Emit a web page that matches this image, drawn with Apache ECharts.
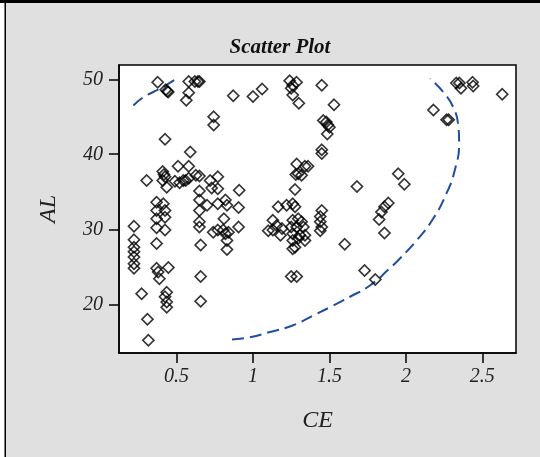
<!DOCTYPE html>
<html>
<head>
<meta charset="utf-8">
<script src="https://cdn.jsdelivr.net/npm/echarts@6/dist/echarts.min.js"></script>
<style>
html,body{margin:0;padding:0;background:#fff;}
#chart{width:540px;height:457px;}
</style>
</head>
<body>
<div id="chart"></div>
<script>
// ---- data ----
const ceValues = [0.377,0.43,0.44,0.446,0.58,0.62,0.64,0.65,0.58,0.564,0.871,1.0,1.06,0.743,0.743,0.425,0.59,0.51,0.58,0.41,
0.418,0.425,0.41,0.305,0.436,0.49,0.52,0.545,0.56,0.58,0.627,0.65,0.72,0.77,0.73,0.77,0.65,0.91,0.37,0.414,
0.37,0.425,0.37,0.425,0.37,0.425,0.37,0.222,0.222,0.222,0.222,0.222,0.222,0.222,0.447,0.37,0.38,0.388,0.272,0.436,
0.425,0.436,0.436,0.31,0.316,0.658,0.658,0.658,0.906,0.906,0.65,0.65,0.70,0.65,0.65,0.77,0.82,0.83,0.81,0.74,
0.77,0.82,0.83,0.83,0.806,0.84,1.10,1.24,1.26,1.285,1.25,1.26,1.30,1.45,1.53,1.46,1.48,1.49,1.50,1.486,
1.45,1.45,1.286,1.34,1.36,1.296,1.318,1.28,1.275,1.68,1.95,1.99,1.165,1.22,1.26,1.275,1.45,1.86,1.885,1.44,
1.44,1.45,1.44,1.13,1.155,1.13,1.18,1.19,1.26,1.296,1.318,1.25,1.286,1.33,1.26,1.307,1.34,1.26,1.296,1.34,
1.26,1.275,1.60,1.25,1.286,1.73,1.80,1.86,1.825,1.84,2.33,2.35,2.36,2.436,2.44,2.63,2.18,2.266,2.28];
const alValues = [49.6,48.6,48.4,48.3,49.7,49.7,49.7,49.7,48.2,47.2,47.8,47.7,48.7,45.0,43.9,42.0,40.3,38.4,38.4,37.7,
37.3,37.0,36.5,36.5,35.6,36.4,36.2,36.5,36.5,36.8,37.2,37.1,36.5,37.0,35.5,35.4,35.1,35.2,33.6,33.4,
32.5,32.5,31.4,31.6,30.2,29.9,28.1,30.4,28.6,27.6,27.0,26.3,25.4,24.8,24.9,24.8,24.3,23.4,21.4,21.6,
21.0,20.3,19.6,18.0,15.2,27.9,23.7,20.4,32.9,30.3,33.9,32.5,33.2,31.0,30.3,33.4,33.9,33.2,31.4,29.6,
29.9,29.4,28.5,27.3,29.9,29.6,29.8,49.8,49.2,49.6,48.8,47.9,46.8,49.2,46.6,44.5,44.3,43.9,43.6,42.7,
40.6,40.1,38.7,38.4,38.4,37.4,37.2,37.3,35.3,35.7,37.4,36.0,33.0,33.2,33.4,33.0,32.5,33.0,33.5,31.7,
31.0,30.3,29.8,31.2,30.5,29.9,29.2,30.1,31.2,31.4,31.0,30.3,30.3,30.3,29.4,29.2,29.2,28.5,28.8,28.5,
27.4,27.6,28.0,23.7,23.7,24.5,23.3,29.5,31.3,32.3,49.5,49.5,48.8,49.6,49.1,48.0,45.9,44.6,44.6];

// ellipse (two visible pieces)
const ellipseTopCE = [0.218,0.283,0.348,0.414,0.501];
const ellipseTopAL = [46.5,47.6,48.3,49.0,50.1];
const ellipseMainCE = [0.863,0.98,1.111,1.263,1.394,1.503,1.634,1.765,1.895,1.961,2.07,2.178,2.266,2.32,2.348,2.342,2.309,2.244,2.157];
const ellipseMainAL = [15.3,15.6,16.3,17.2,18.5,19.6,21.0,22.5,24.8,26.1,28.5,31.4,34.8,37.9,41.4,43.9,46.3,48.3,50.1];

const xTicks = [0.5,1,1.5,2,2.5];
const yTicks = [20,30,40,50];
const xRange = [0.124,2.72];
const yRange = [13.5,51.9];

const zip = (a,b)=>a.map((v,i)=>[v,b[i]]);

const chart = echarts.init(document.getElementById('chart'));
const serif = '"Liberation Serif","DejaVu Serif",serif';
const dashStyle = {color:'#1f4f9c', width:2, type:[12,6]};

chart.setOption({
  backgroundColor:'#e0e0e0',
  animation:false,
  title:{
    text:'Scatter Plot', left:275, top:32, textAlign:'center',
    textStyle:{fontFamily:serif, fontStyle:'italic', fontWeight:'bold', fontSize:21, color:'#111'}
  },
  graphic:[
    {type:'rect', shape:{x:0,y:0,width:4.5,height:457}, style:{fill:'#fff'}, z:100},
    {type:'rect', shape:{x:0,y:0,width:540,height:3}, style:{fill:'#000'}, z:100},
    {type:'rect', shape:{x:4.5,y:0,width:1.5,height:457}, style:{fill:'#000'}, z:100}
  ],
  grid:{left:119, top:65, right:24, bottom:104, show:true, backgroundColor:'#fff', borderColor:'#000', borderWidth:1.5},
  xAxis:{
    type:'value', min:xRange[0], max:xRange[1],
    name:'CE', nameLocation:'middle', nameGap:56,
    nameTextStyle:{fontFamily:serif, fontStyle:'italic', fontSize:24, color:'#222'},
    axisLine:{show:true, onZero:false, lineStyle:{color:'#000', width:1.5}},
    axisTick:{show:true, length:10, lineStyle:{color:'#000', width:1.5}, customValues:xTicks},
    axisLabel:{margin:14, fontFamily:serif, fontStyle:'italic', fontSize:20, color:'#222', customValues:xTicks,
      formatter:v=>String(v)},
    splitLine:{show:false}
  },
  yAxis:{
    type:'value', min:yRange[0], max:yRange[1],
    name:'AL', nameLocation:'middle', nameGap:58,
    nameTextStyle:{fontFamily:serif, fontStyle:'italic', fontSize:24, color:'#222'},
    axisLine:{show:true, onZero:false, lineStyle:{color:'#000', width:1.5}},
    axisTick:{show:true, length:10, lineStyle:{color:'#000', width:1.5}, customValues:yTicks},
    axisLabel:{margin:16, fontFamily:serif, fontStyle:'italic', fontSize:20, color:'#222', customValues:yTicks,
      formatter:v=>String(v)},
    splitLine:{show:false}
  },
  series:[
    {type:'line', data:zip(ellipseTopCE, ellipseTopAL), showSymbol:false, smooth:true, lineStyle:dashStyle, z:3},
    {type:'line', data:zip(ellipseMainCE, ellipseMainAL), showSymbol:false, smooth:true, lineStyle:dashStyle, z:3},
    {type:'scatter', data:zip(ceValues, alValues), symbol:'diamond', symbolSize:11,
      itemStyle:{color:'rgba(0,0,0,0)', borderColor:'#000', borderWidth:1.7}, z:4}
  ]
});
</script>
</body>
</html>
